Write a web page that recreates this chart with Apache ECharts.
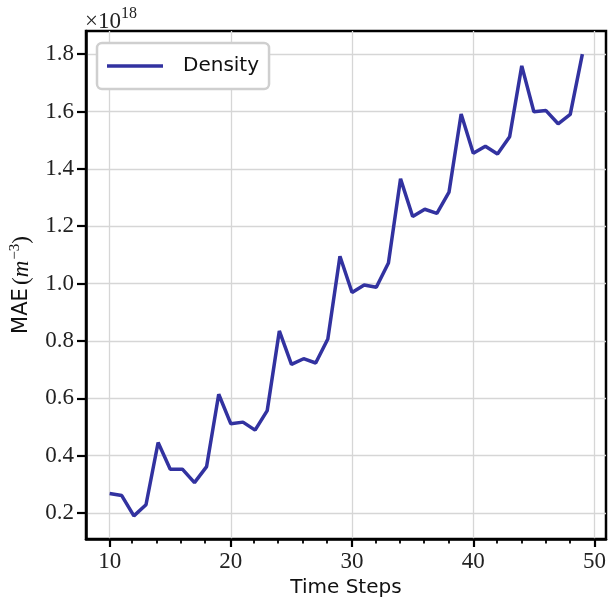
<!DOCTYPE html>
<html>
<head>
<meta charset="utf-8">
<script src="https://cdn.jsdelivr.net/npm/echarts@6/dist/echarts.min.js"></script>
<style>html,body{margin:0;padding:0;background:#fff}#c{width:610px;height:606px}</style>
</head>
<body>
<div id="c"></div>
<script>
// Data (MAE in units of 1e18 m^-3)
const timeSteps = [10,11,12,13,14,15,16,17,18,19,20,21,22,23,24,25,26,27,28,29,30,31,32,33,34,35,36,37,38,39,40,41,42,43,44,45,46,47,48,49];
const densityMAE = [0.268,0.261,0.190,0.229,0.446,0.353,0.353,0.306,0.362,0.614,0.511,0.517,0.489,0.557,0.835,0.718,0.738,0.723,0.807,1.095,0.969,0.995,0.987,1.072,1.365,1.234,1.259,1.245,1.319,1.591,1.454,1.479,1.452,1.512,1.759,1.599,1.603,1.557,1.590,1.800];
const xMajorTicks = [10,20,30,40,50];
const xMinorTicks = [12,14,16,18,22,24,26,28,32,34,36,38,42,44,46,48];
const yTicks = [0.2,0.4,0.6,0.8,1.0,1.2,1.4,1.6,1.8];
const seriesName = 'Density';

const serif = 'Liberation Serif';
const sans = 'DejaVu Sans';
const X_MIN = 8.05, X_MAX = 50.95, Y_MIN = 0.1095, Y_MAX = 1.8805;
const gridRect = {left: 84, right: 4, top: 31, bottom: 67};
const lineColor = '#3232a0';

const chart = echarts.init(document.getElementById('c'), null, {renderer: 'canvas'});
chart.setOption({
  animation: false,
  backgroundColor: '#fff',
  grid: [
    Object.assign({show: true, borderColor: '#000', borderWidth: 2.5, containLabel: false}, gridRect),
    Object.assign({show: false, containLabel: false}, gridRect)
  ],
  legend: {
    data: [{name: seriesName, icon: 'rect'}],
    left: 97, top: 43,
    orient: 'vertical',
    padding: [12, 10, 12, 10],
    backgroundColor: '#fff',
    borderColor: '#cfcfcf',
    borderWidth: 2.5,
    borderRadius: 5,
    itemWidth: 56,
    itemHeight: 3.5,
    itemStyle: {color: lineColor, borderWidth: 0},
    textStyle: {fontFamily: sans, fontSize: 20, color: '#111', padding: [0, 0, 0, 15], lineHeight: 22}
  },
  xAxis: [
    {
      type: 'value', gridIndex: 0, min: X_MIN, max: X_MAX,
      name: 'Time Steps', nameLocation: 'middle', nameGap: 33,
      nameTextStyle: {fontFamily: sans, fontSize: 20, color: '#111'},
      axisLine: {show: true, onZero: false, lineStyle: {color: '#000', width: 2.5}},
      axisTick: {show: true, inside: false, length: 8, lineStyle: {color: '#000', width: 2.2}, customValues: xMajorTicks},
      axisLabel: {fontFamily: serif, fontSize: 23, color: '#222', margin: 11, customValues: xMajorTicks,
        formatter: v => String(Math.round(v))},
      splitLine: {show: true, lineStyle: {color: '#d6d6d6', width: 1.3}}
    },
    {
      type: 'value', gridIndex: 1, min: X_MIN, max: X_MAX,
      axisLine: {show: false, onZero: false},
      axisTick: {show: true, inside: false, length: 4.5, lineStyle: {color: '#000', width: 1.8}, customValues: xMinorTicks},
      axisLabel: {show: false},
      splitLine: {show: false}
    }
  ],
  yAxis: [
    {
      type: 'value', gridIndex: 0, min: Y_MIN, max: Y_MAX,
      name: '{a|MAE} {b|(}{c|m}{s|−3}{b|)}', nameLocation: 'middle', nameGap: 51, nameRotate: 90,
      nameTextStyle: {
        rich: {
          a: {fontFamily: sans, fontSize: 21, color: '#111'},
          b: {fontFamily: serif, fontSize: 23, color: '#111'},
          c: {fontFamily: serif, fontStyle: 'italic', fontSize: 23, color: '#111'},
          s: {fontFamily: serif, fontSize: 15, color: '#111', padding: [0, 0, 12, 1]}
        }
      },
      axisLine: {show: true, onZero: false, lineStyle: {color: '#000', width: 2.5}},
      axisTick: {show: true, inside: false, length: 9, lineStyle: {color: '#000', width: 2.2}, customValues: yTicks},
      axisLabel: {fontFamily: serif, fontSize: 23, color: '#222', margin: 12, customValues: yTicks,
        formatter: v => v.toFixed(1)},
      splitLine: {show: true, lineStyle: {color: '#d6d6d6', width: 1.3}}
    },
    {
      type: 'value', gridIndex: 1, min: Y_MIN, max: Y_MAX, show: false
    }
  ],
  graphic: [{
    type: 'text', left: 85, top: 6,
    style: {
      text: '{a|×10}{s|18}',
      rich: {
        a: {fontFamily: serif, fontSize: 23, fill: '#222', padding: [10, 0, 0, 0]},
        s: {fontFamily: serif, fontSize: 16, fill: '#222', padding: [0, 0, 6, 0]}
      }
    }
  }],
  series: [{
    name: seriesName,
    type: 'line',
    xAxisIndex: 0, yAxisIndex: 0,
    data: timeSteps.map((t, i) => [t, densityMAE[i]]),
    showSymbol: false, symbol: 'none',
    lineStyle: {color: lineColor, width: 3.5},
    itemStyle: {color: lineColor},
    clip: false
  }]
});
</script>
</body>
</html>
